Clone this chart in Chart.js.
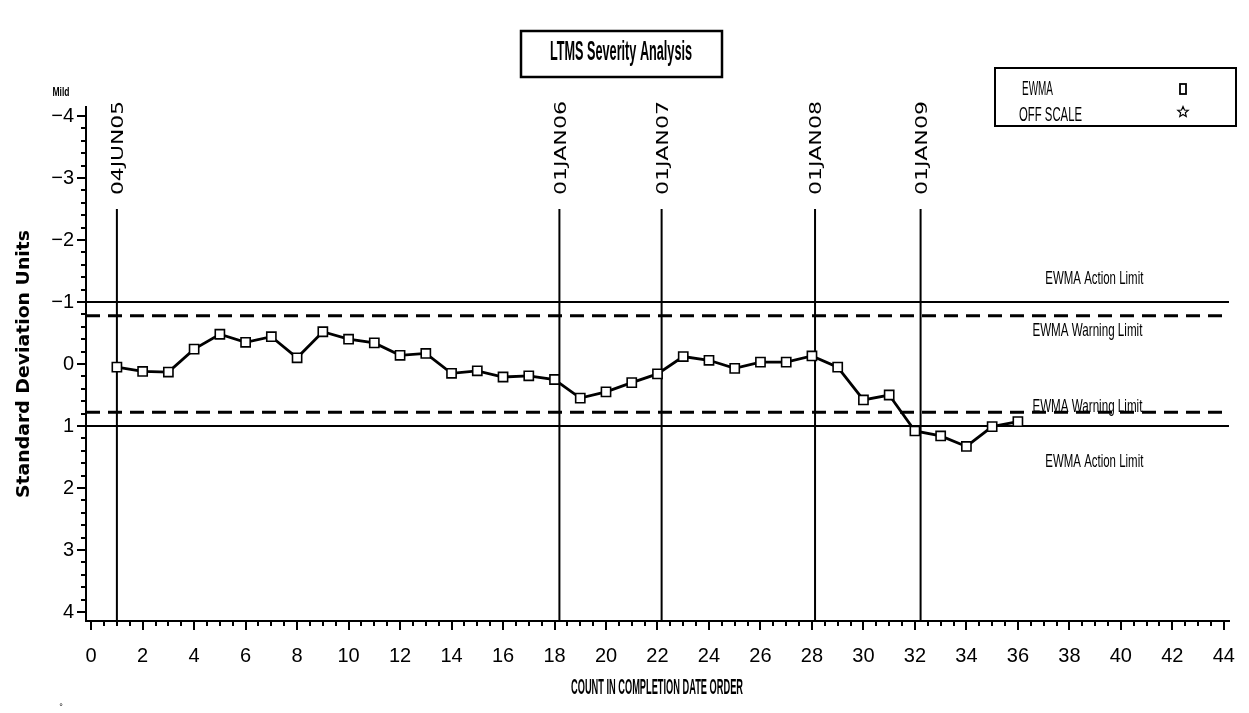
<!DOCTYPE html>
<html>
<head>
<meta charset="utf-8">
<script src="https://cdn.jsdelivr.net/npm/chart.js@4.4.1/dist/chart.umd.min.js"></script>
<style>
  html, body { margin: 0; padding: 0; background: #fff; }
  #wrap { width: 1249px; height: 713px; }
</style>
</head>
<body>
<div id="wrap"><canvas id="myChart" width="1249" height="713"></canvas></div>
<script>
// EWMA values in standard deviation units, one per test in completion order
var counts = [1, 2, 3, 4, 5, 6, 7, 8, 9, 10, 11, 12, 13, 14, 15, 16, 17, 18,
  19, 20, 21, 22, 23, 24, 25, 26, 27, 28, 29, 30, 31, 32, 33, 34, 35, 36];
var ewma = [0.05, 0.12, 0.13, -0.24, -0.48, -0.35, -0.44, -0.10, -0.52, -0.40,
  -0.34, -0.14, -0.17, 0.15, 0.11, 0.21, 0.19, 0.25, 0.55, 0.45, 0.30, 0.16,
  -0.12, -0.06, 0.07, -0.03, -0.03, -0.13, 0.05, 0.58, 0.50, 1.08, 1.16, 1.33,
  1.01, 0.93];

var actionLimits = [-1, 1];
var warningLimits = [-0.78, 0.78];

// date reference lines (x position in count units)
var dateMarks = [1, 18.19, 22.16, 28.12, 32.22];
var dateLabels = ["04JUN05", "01JAN06", "01JAN07", "01JAN08", "01JAN09"];
var dateLineTop = -2.5;

var xRange = [-0.2, 44.2];
var yRange = [-4.145, 4.145];

var titleText = "LTMS Severity Analysis";
var xTitle = "COUNT IN COMPLETION DATE ORDER";
var yTitle = "Standard Deviation Units";
var legendItems = ["EWMA", "OFF SCALE"];

// right hand limit labels: [text, x, y] in data units
var limitLabels = [
  ["EWMA Action Limit", 38.97, -1.38],
  ["EWMA Warning Limit", 38.7, -0.54],
  ["EWMA Warning Limit", 38.7, 0.69],
  ["EWMA Action Limit", 38.97, 1.57]
];

var NARROW = '"Liberation Sans Narrow", "Arial Narrow", sans-serif';

function fitText(ctx, text, x, y, font, width, rot, align) {
  ctx.save();
  ctx.font = font;
  var w = ctx.measureText(text).width;
  var s = width ? width / w : 1;
  ctx.translate(x, y);
  if (rot) ctx.rotate(rot);
  ctx.scale(s, 1);
  ctx.textAlign = align || "center";
  ctx.textBaseline = "middle";
  ctx.fillStyle = "#000";
  ctx.fillText(text, 0, 0);
  ctx.restore();
}

function drawStar(ctx, cx, cy, r) {
  ctx.beginPath();
  for (var i = 0; i < 10; i++) {
    var a = -Math.PI / 2 + i * Math.PI / 5;
    var rr = i % 2 ? r * 0.45 : r;
    var px = cx + rr * Math.cos(a), py = cy + rr * Math.sin(a);
    if (i === 0) ctx.moveTo(px, py); else ctx.lineTo(px, py);
  }
  ctx.closePath();
  ctx.stroke();
}

var extras = {
  id: "extras",
  afterDraw: function (chart) {
    var ctx = chart.ctx;
    var xs = chart.scales.x, ys = chart.scales.y;
    var area = chart.chartArea;
    ctx.save();
    ctx.strokeStyle = "#000";
    ctx.lineWidth = 2;

    // minor ticks
    ctx.beginPath();
    for (var v = 0; v <= 44; v += 0.5) {
      if (v % 2 === 0) continue;
      var px = Math.round(xs.getPixelForValue(v));
      ctx.moveTo(px, area.bottom);
      ctx.lineTo(px, area.bottom + 5);
    }
    for (var k = -20; k <= 20; k++) {
      if (k % 5 === 0) continue;
      var py = Math.round(ys.getPixelForValue(k / 5));
      ctx.moveTo(area.left, py);
      ctx.lineTo(area.left - 5, py);
    }
    ctx.stroke();

    // date labels above the reference lines
    dateMarks.forEach(function (d, i) {
      var px = xs.getPixelForValue(d) + 2;
      var py = ys.getPixelForValue(dateLineTop) - 14;
      fitText(ctx, dateLabels[i], px, py, '16px "DejaVu Sans", sans-serif', 94, -Math.PI / 2, "left");
    });

    // limit labels
    limitLabels.forEach(function (l) {
      var w = l[0].indexOf("Warning") > 0 ? 110 : 98;
      fitText(ctx, l[0], xs.getPixelForValue(l[1]), ys.getPixelForValue(l[2]), "19px " + NARROW, w);
    });

    // title box
    ctx.lineWidth = 2.5;
    ctx.strokeRect(521, 31, 201, 46);
    fitText(ctx, titleText, 621, 53, "bold 27px " + NARROW, 142);

    // legend box
    ctx.lineWidth = 2;
    ctx.strokeRect(995, 68, 241, 58);
    fitText(ctx, legendItems[0], 1022, 89, "20px " + NARROW, 31, 0, "left");
    fitText(ctx, legendItems[1], 1019, 115, "20px " + NARROW, 63, 0, "left");
    ctx.lineWidth = 1.8;
    ctx.strokeRect(1180, 84, 6, 10);
    ctx.lineWidth = 1.2;
    drawStar(ctx, 1183, 112, 5.5);

    // axis titles
    fitText(ctx, "Mild", 61, 92, "bold 13px " + NARROW, 17);
    fitText(ctx, xTitle, 657, 688, "bold 22px " + NARROW, 172);
    fitText(ctx, yTitle, 25, (area.top + area.bottom) / 2, 'bold 17px "DejaVu Sans", sans-serif', 268, -Math.PI / 2);
    fitText(ctx, "\u00b0", 61, 708, "9px " + NARROW);
    ctx.restore();
  }
};

function hLine(y, dash, width) {
  return {
    data: [{ x: xRange[0], y: y }, { x: xRange[1], y: y }],
    borderColor: "#000",
    borderWidth: width,
    borderDash: dash,
    pointRadius: 0
  };
}

var datasets = [{
  label: legendItems[0],
  data: counts.map(function (c, i) { return { x: c, y: ewma[i] }; }),
  borderColor: "#000",
  borderWidth: 2.8,
  pointStyle: "rect",
  pointRadius: 6.5,
  pointBorderWidth: 1.6,
  pointBackgroundColor: "#fff",
  pointBorderColor: "#000"
}];
actionLimits.forEach(function (a) { datasets.push(hLine(a, [], 2)); });
warningLimits.forEach(function (w) { datasets.push(hLine(w, [14, 8], 3)); });
dateMarks.forEach(function (d) {
  datasets.push({
    data: [{ x: d, y: dateLineTop }, { x: d, y: yRange[1] }],
    borderColor: "#000",
    borderWidth: 2,
    pointRadius: 0
  });
});

var chart = new Chart(document.getElementById("myChart"), {
  type: "line",
  data: { datasets: datasets },
  options: {
    responsive: false,
    animation: false,
    events: [],
    layout: { padding: { top: 107, right: 8, left: 0, bottom: 0 } },
    plugins: { legend: { display: false }, tooltip: { enabled: false } },
    scales: {
      x: {
        type: "linear",
        min: xRange[0],
        max: xRange[1],
        border: { color: "#000", width: 2 },
        grid: { drawOnChartArea: false, color: "#000", lineWidth: 2, tickLength: 9 },
        ticks: {
          stepSize: 2,
          includeBounds: false,
          color: "#000",
          padding: 14,
          maxRotation: 0,
          font: { family: NARROW, size: 20 }
        },
        afterFit: function (s) { s.height = 92; }
      },
      y: {
        type: "linear",
        reverse: true,
        min: yRange[0],
        max: yRange[1],
        border: { color: "#000", width: 2 },
        grid: { drawOnChartArea: false, color: "#000", lineWidth: 2, tickLength: 9 },
        ticks: {
          stepSize: 1,
          includeBounds: false,
          color: "#000",
          padding: 3,
          font: { family: NARROW, size: 20 },
          callback: function (v) { return v < 0 ? "\u2212" + Math.abs(v) : String(v); }
        },
        afterFit: function (s) { s.width = 86; }
      }
    }
  },
  plugins: [extras]
});
</script>
</body>
</html>
